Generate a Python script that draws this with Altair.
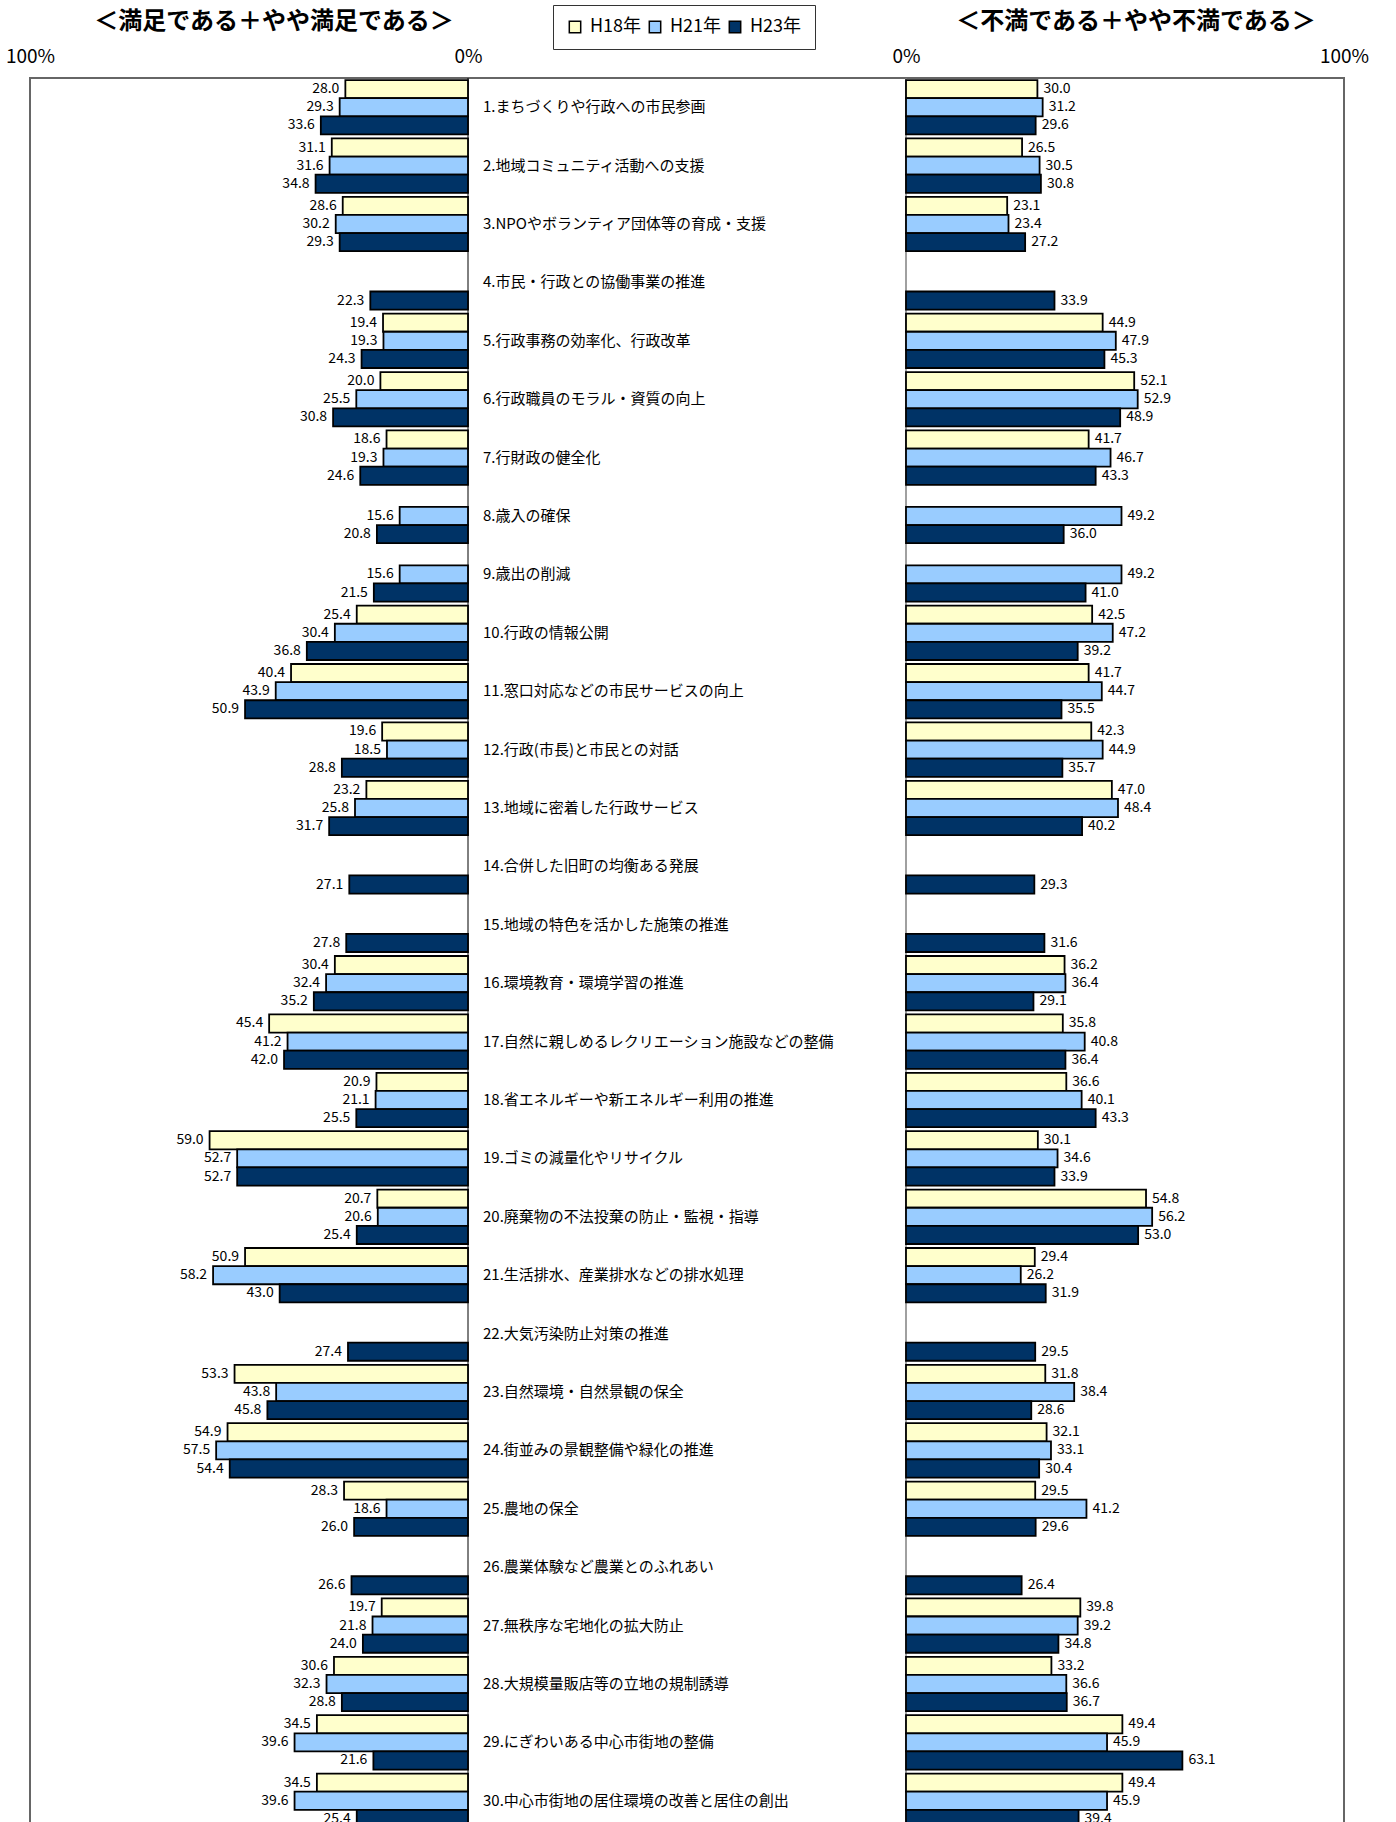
import altair as alt
import pandas as pd

items = [
    "1.まちづくりや行政への市民参画",
    "2.地域コミュニティ活動への支援",
    "3.NPOやボランティア団体等の育成・支援",
    "4.市民・行政との協働事業の推進",
    "5.行政事務の効率化、行政改革",
    "6.行政職員のモラル・資質の向上",
    "7.行財政の健全化",
    "8.歳入の確保",
    "9.歳出の削減",
    "10.行政の情報公開",
    "11.窓口対応などの市民サービスの向上",
    "12.行政(市長)と市民との対話",
    "13.地域に密着した行政サービス",
    "14.合併した旧町の均衡ある発展",
    "15.地域の特色を活かした施策の推進",
    "16.環境教育・環境学習の推進",
    "17.自然に親しめるレクリエーション施設などの整備",
    "18.省エネルギーや新エネルギー利用の推進",
    "19.ゴミの減量化やリサイクル",
    "20.廃棄物の不法投棄の防止・監視・指導",
    "21.生活排水、産業排水などの排水処理",
    "22.大気汚染防止対策の推進",
    "23.自然環境・自然景観の保全",
    "24.街並みの景観整備や緑化の推進",
    "25.農地の保全",
    "26.農業体験など農業とのふれあい",
    "27.無秩序な宅地化の拡大防止",
    "28.大規模量販店等の立地の規制誘導",
    "29.にぎわいある中心市街地の整備",
    "30.中心市街地の居住環境の改善と居住の創出",
]
years = ["H18年", "H21年", "H23年"]

# 満足である＋やや満足である
sat_h18 = [28.0, 31.1, 28.6, None, 19.4, 20.0, 18.6, None, None, 25.4, 40.4, 19.6, 23.2, None, None,
           30.4, 45.4, 20.9, 59.0, 20.7, 50.9, None, 53.3, 54.9, 28.3, None, 19.7, 30.6, 34.5, 34.5]
sat_h21 = [29.3, 31.6, 30.2, None, 19.3, 25.5, 19.3, 15.6, 15.6, 30.4, 43.9, 18.5, 25.8, None, None,
           32.4, 41.2, 21.1, 52.7, 20.6, 58.2, None, 43.8, 57.5, 18.6, None, 21.8, 32.3, 39.6, 39.6]
sat_h23 = [33.6, 34.8, 29.3, 22.3, 24.3, 30.8, 24.6, 20.8, 21.5, 36.8, 50.9, 28.8, 31.7, 27.1, 27.8,
           35.2, 42.0, 25.5, 52.7, 25.4, 43.0, 27.4, 45.8, 54.4, 26.0, 26.6, 24.0, 28.8, 21.6, 25.4]
# 不満である＋やや不満である
dis_h18 = [30.0, 26.5, 23.1, None, 44.9, 52.1, 41.7, None, None, 42.5, 41.7, 42.3, 47.0, None, None,
           36.2, 35.8, 36.6, 30.1, 54.8, 29.4, None, 31.8, 32.1, 29.5, None, 39.8, 33.2, 49.4, 49.4]
dis_h21 = [31.2, 30.5, 23.4, None, 47.9, 52.9, 46.7, 49.2, 49.2, 47.2, 44.7, 44.9, 48.4, None, None,
           36.4, 40.8, 40.1, 34.6, 56.2, 26.2, None, 38.4, 33.1, 41.2, None, 39.2, 36.6, 45.9, 45.9]
dis_h23 = [29.6, 30.8, 27.2, 33.9, 45.3, 48.9, 43.3, 36.0, 41.0, 39.2, 35.5, 35.7, 40.2, 29.3, 31.6,
           29.1, 36.4, 43.3, 33.9, 53.0, 31.9, 29.5, 28.6, 30.4, 29.6, 26.4, 34.8, 36.7, 63.1, 39.4]

title_left = "＜満足である＋やや満足である＞"
title_right = "＜不満である＋やや不満である＞"
colors = ["#FFFFCC", "#99CCFF", "#003366"]

rows = []
for i, item in enumerate(items):
    for side, arrs in (("sat", (sat_h18, sat_h21, sat_h23)), ("dis", (dis_h18, dis_h21, dis_h23))):
        for yr, arr in zip(years, arrs):
            if arr[i] is not None:
                rows.append({"item": item, "year": yr, "side": side, "value": arr[i]})
df = pd.DataFrame(rows)
labels_df = pd.DataFrame({"item": items})

FONT = "Noto Sans CJK JP"

xscale = alt.Scale(domain=[-100, 200], nice=False, zero=False)
xaxis = alt.Axis(
    orient="top", values=[-100, 0, 100, 200], title=None,
    labelExpr="(datum.value == 0 || datum.value == 100) ? '0%' : '100%'",
    domain=False, ticks=False, tickSize=0, grid=False, labelPadding=12,
    labelFontSize=19, labelColor="#000000", labelFont=FONT, labelFlush=False,
)
yscale = alt.Scale(domain=items, paddingInner=0.069, paddingOuter=0.035)
yenc = alt.Y("item:N", scale=yscale, axis=None)
yoff = alt.YOffset("year:N", scale=alt.Scale(domain=years, paddingInner=0, paddingOuter=0))

base = alt.Chart(df).transform_calculate(
    tip="datum.side == 'sat' ? -datum.value : 100 + datum.value",
    base0="datum.side == 'sat' ? 0 : 100",
)

bars = base.mark_bar(stroke="#000000", strokeWidth=1.8).encode(
    x=alt.X("tip:Q", scale=xscale, axis=xaxis),
    x2="base0:Q",
    y=yenc,
    yOffset=yoff,
    color=alt.Color(
        "year:N",
        scale=alt.Scale(domain=years, range=colors),
        legend=alt.Legend(
            orient="none", legendX=523, legendY=-73, direction="horizontal",
            title=None, symbolType="square", symbolSize=130,
            symbolStrokeColor="#000000", symbolStrokeWidth=1.5,
            labelFontSize=18, labelFont=FONT, labelColor="#000000",
            padding=13, strokeColor="#333333", fillColor="#FFFFFF",
            columnPadding=4, labelOffset=6, columns=3,
        ),
    ),
)

val_left = base.transform_filter("datum.side == 'sat'").mark_text(
    align="right", baseline="middle", dx=-6, fontSize=14, font=FONT, color="#000000"
).encode(
    x=alt.X("tip:Q", scale=xscale, axis=xaxis),
    y=yenc, yOffset=yoff,
    text=alt.Text("value:Q", format=".1f"),
)
val_right = base.transform_filter("datum.side == 'dis'").mark_text(
    align="left", baseline="middle", dx=6, fontSize=14, font=FONT, color="#000000"
).encode(
    x=alt.X("tip:Q", scale=xscale, axis=xaxis),
    y=yenc, yOffset=yoff,
    text=alt.Text("value:Q", format=".1f"),
)

cat_labels = alt.Chart(labels_df).mark_text(
    align="left", baseline="middle", dx=15, fontSize=15, font=FONT, color="#000000"
).encode(
    x=alt.X(datum=0, scale=xscale, axis=xaxis),
    y=yenc,
    text="item:N",
)

zero_left = alt.Chart(pd.DataFrame({"z": [0]})).mark_rule(color="#000000", strokeWidth=1).encode(
    x=alt.X(datum=0, scale=xscale, axis=xaxis)
)
zero_right = alt.Chart(pd.DataFrame({"z": [0]})).mark_rule(color="#808080", strokeWidth=1.5).encode(
    x=alt.X(datum=100, scale=xscale, axis=xaxis)
)

t_left = alt.Chart(pd.DataFrame({"t": [title_left]})).mark_text(
    align="center", baseline="middle", fontSize=24, fontWeight="bold", font=FONT, color="#000000"
).encode(
    x=alt.X(datum=-44.3, scale=xscale, axis=xaxis),
    y=alt.value(-56),
    text="t:N",
)
t_right = alt.Chart(pd.DataFrame({"t": [title_right]})).mark_text(
    align="center", baseline="middle", fontSize=24, fontWeight="bold", font=FONT, color="#000000"
).encode(
    x=alt.X(datum=152.5, scale=xscale, axis=xaxis),
    y=alt.value(-56),
    text="t:N",
)

chart = alt.layer(
    zero_left, zero_right, bars, val_left, val_right, cat_labels, t_left, t_right
).properties(
    width=1314,
    height=1752,
    autosize=alt.AutoSizeParams(type="none"),
    padding={"left": 30, "top": 78, "right": 52, "bottom": 0},
).configure(
    font=FONT,
).configure_view(
    stroke="#666666", strokeWidth=2,
)

chart.save("out.html", embed_options={"renderer": "svg", "actions": False})
